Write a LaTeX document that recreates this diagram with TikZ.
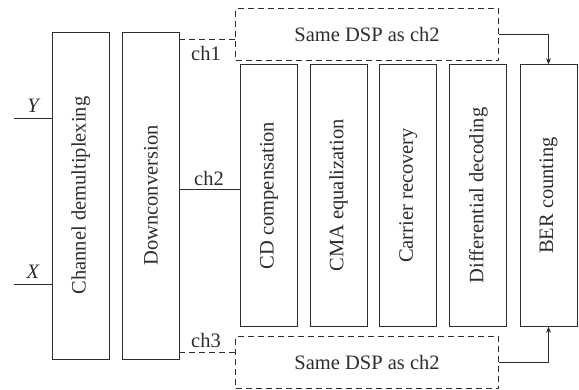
\documentclass[tikz,border=0pt]{standalone}
\usepackage{fontspec}
\setmainfont{Liberation Serif}
\usepackage{graphicx}
\usetikzlibrary{arrows.meta}
\definecolor{linec}{RGB}{45,45,45}
\begin{document}
\begin{tikzpicture}[x=1pt,y=-1pt,
  every node/.style={text=linec,font=\fontsize{20.5}{24}\selectfont},
  blockbox/.style={draw=linec,line width=0.9pt,inner sep=0pt,minimum width=57pt},
  dspbox/.style={draw=linec,line width=0.9pt,dash pattern=on 6pt off 4pt,inner sep=0pt,minimum width=263pt,minimum height=52pt},
  wire/.style={draw=linec,line width=0.9pt},
  dwire/.style={draw=linec,line width=0.9pt,dash pattern=on 6pt off 4pt},
  arr/.style={wire,-{Stealth[length=6pt,width=5pt]}},
  lab/.style={inner sep=0pt}
]
\useasboundingbox (0,0) rectangle (579,390);
% main blocks
\node[blockbox,minimum height=327pt] (demux) at (80.8,195.5) {\rotatebox{90}{Channel demultiplexing}};
\node[blockbox,minimum height=327pt] (down) at (151,195.5) {\rotatebox{90}{Downconversion}};
\node[blockbox,minimum height=261.6pt] (cd) at (269,195.5) {\rotatebox{90}{CD compensation}};
\node[blockbox,minimum height=261.6pt] (cma) at (338.5,195.5) {\rotatebox{90}{CMA equalization}};
\node[blockbox,minimum height=261.6pt] (car) at (408.3,195.5) {\rotatebox{90}{Carrier recovery}};
\node[blockbox,minimum height=261.6pt] (dif) at (478.3,195.5) {\rotatebox{90}{Differential decoding}};
\node[blockbox,minimum height=261.6pt] (ber) at (548.5,195.5) {\rotatebox{90}{BER counting}};
% dashed DSP boxes
\node[dspbox] (dtop) at (367,34.7) {Same DSP as ch2};
\node[dspbox] (dbot) at (367,362.7) {Same DSP as ch2};
% inputs
\coordinate (yin) at (14,118);
\coordinate (xin) at (14,284.7);
\draw[wire] (yin) -- (yin -| demux.west);
\draw[wire] (xin) -- (xin -| demux.west);
\node[lab,font=\fontsize{20.5}{24}\selectfont\itshape] (ylab) at (33,105.7) {Y};
\node[lab,font=\fontsize{20.5}{24}\selectfont\itshape] (xlab) at (33,271.7) {X};
% channels
\coordinate (c1) at (179.3,39.7);
\coordinate (c2) at (179.3,189);
\coordinate (c3) at (179.3,352);
\draw[dwire] (c1) -- (c1 -| dtop.west);
\draw[wire] (c2) -- (c2 -| cd.west);
\draw[dwire] (c3) -- (c3 -| dbot.west);
\node[lab] (l1) at (206,53) {ch1};
\node[lab] (l2) at (209,178) {ch2};
\node[lab] (l3) at (206,340) {ch3};
% arrows to BER
\draw[arr] (dtop.east) -| (ber.north);
\draw[arr] (dbot.east) -| (ber.south);
\end{tikzpicture}
\end{document}
